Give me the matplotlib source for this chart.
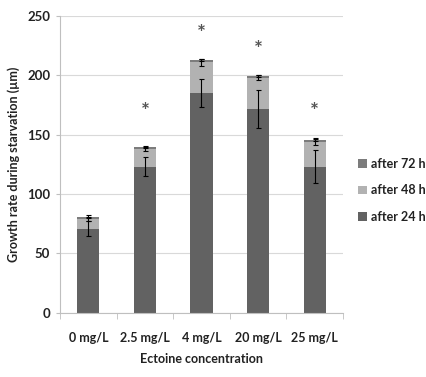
import numpy as np
import matplotlib
matplotlib.use("Agg")
import matplotlib.pyplot as plt

# ── Data ───────────────────────────────────────────────────────────────────
categories = ["0 mg/L", "2.5 mg/L", "4 mg/L", "20 mg/L", "25 mg/L"]
after24 = [71, 123, 185, 172, 123]
after48_inc = [8, 15, 26, 26, 21]
after72_inc = [2, 1.5, 2, 1.5, 1.5]
err24 = [6, 8, 12, 16, 14]
err48 = [2, 2, 3, 2, 3]
err72 = [1, 1, 1, 1, 1]
star_y = [None, 169, 235, 221, 169]

COL24 = "#626262"
COL48 = "#b2b2b2"
COL72 = "#7c7c7c"
TXT = "#222222"

plt.rcParams["font.family"] = ["Lato", "DejaVu Sans"]

fig = plt.figure(figsize=(4.26, 3.77), dpi=100, facecolor="white")
ax = fig.add_axes([0.141, 0.170, 0.664, 0.788])

x = np.arange(len(categories))
w = 0.39
b24 = np.array(after24, dtype=float)
b48 = b24 + np.array(after48_inc)
b72 = b48 + np.array(after72_inc)

ax.bar(x, after24, w, color=COL24, label="after 24 h", zorder=2)
ax.bar(x, after48_inc, w, bottom=b24, color=COL48, label="after 48 h", zorder=2)
ax.bar(x, after72_inc, w, bottom=b48, color=COL72, label="after 72 h", zorder=2)

ekw = dict(fmt="none", ecolor="black", elinewidth=0.8, capsize=1.8, capthick=0.8, zorder=3)
ax.errorbar(x, b24, yerr=err24, **ekw)
ax.errorbar(x, b48, yerr=err48, **ekw)
ax.errorbar(x, b72, yerr=err72, **ekw)

# significance marks
for xi, sy in zip(x, star_y):
    if sy is not None:
        ax.text(xi, sy, "*", ha="center", va="center", fontsize=15,
                fontweight="bold", color="#555555")

ax.set_xlim(-0.5, len(categories) - 0.5)
ax.set_ylim(0, 250)
ax.set_yticks(range(0, 251, 50))
ax.grid(axis="y", color="#d9d9d9", linewidth=0.8, zorder=0)
ax.set_axisbelow(True)

ax.set_xticks(x)
ax.set_xticklabels(categories)
ax.set_xticks(np.arange(-0.5, len(categories)), minor=True)
ax.tick_params(axis="x", which="major", length=0, pad=14, labelsize=9)
ax.tick_params(axis="x", which="minor", length=4, color="#bfbfbf", direction="out")
ax.tick_params(axis="y", length=3, color="#bfbfbf", labelsize=9.5, pad=4)
for lab in ax.get_xticklabels() + ax.get_yticklabels():
    lab.set_fontweight("bold")
    lab.set_color(TXT)

for s in ["top", "right"]:
    ax.spines[s].set_visible(False)
ax.spines["left"].set_color("#bfbfbf")
ax.spines["bottom"].set_color("#bfbfbf")

ax.set_xlabel("Ectoine concentration", fontsize=9, fontweight="bold", labelpad=6, color=TXT)
ax.set_ylabel("Growth rate during starvation (µm)", fontsize=9, fontweight="bold", labelpad=5, color=TXT)

h, l = ax.get_legend_handles_labels()
leg = fig.legend(h[::-1], l[::-1], loc="center left", bbox_to_anchor=(0.815, 0.495),
                 frameon=False, fontsize=9, handlelength=0.7, handleheight=0.7,
                 handletextpad=0.3, labelspacing=1.15)
for t in leg.get_texts():
    t.set_fontweight("bold")
    t.set_color(TXT)

fig.savefig("out.png", dpi=100, facecolor="white")
